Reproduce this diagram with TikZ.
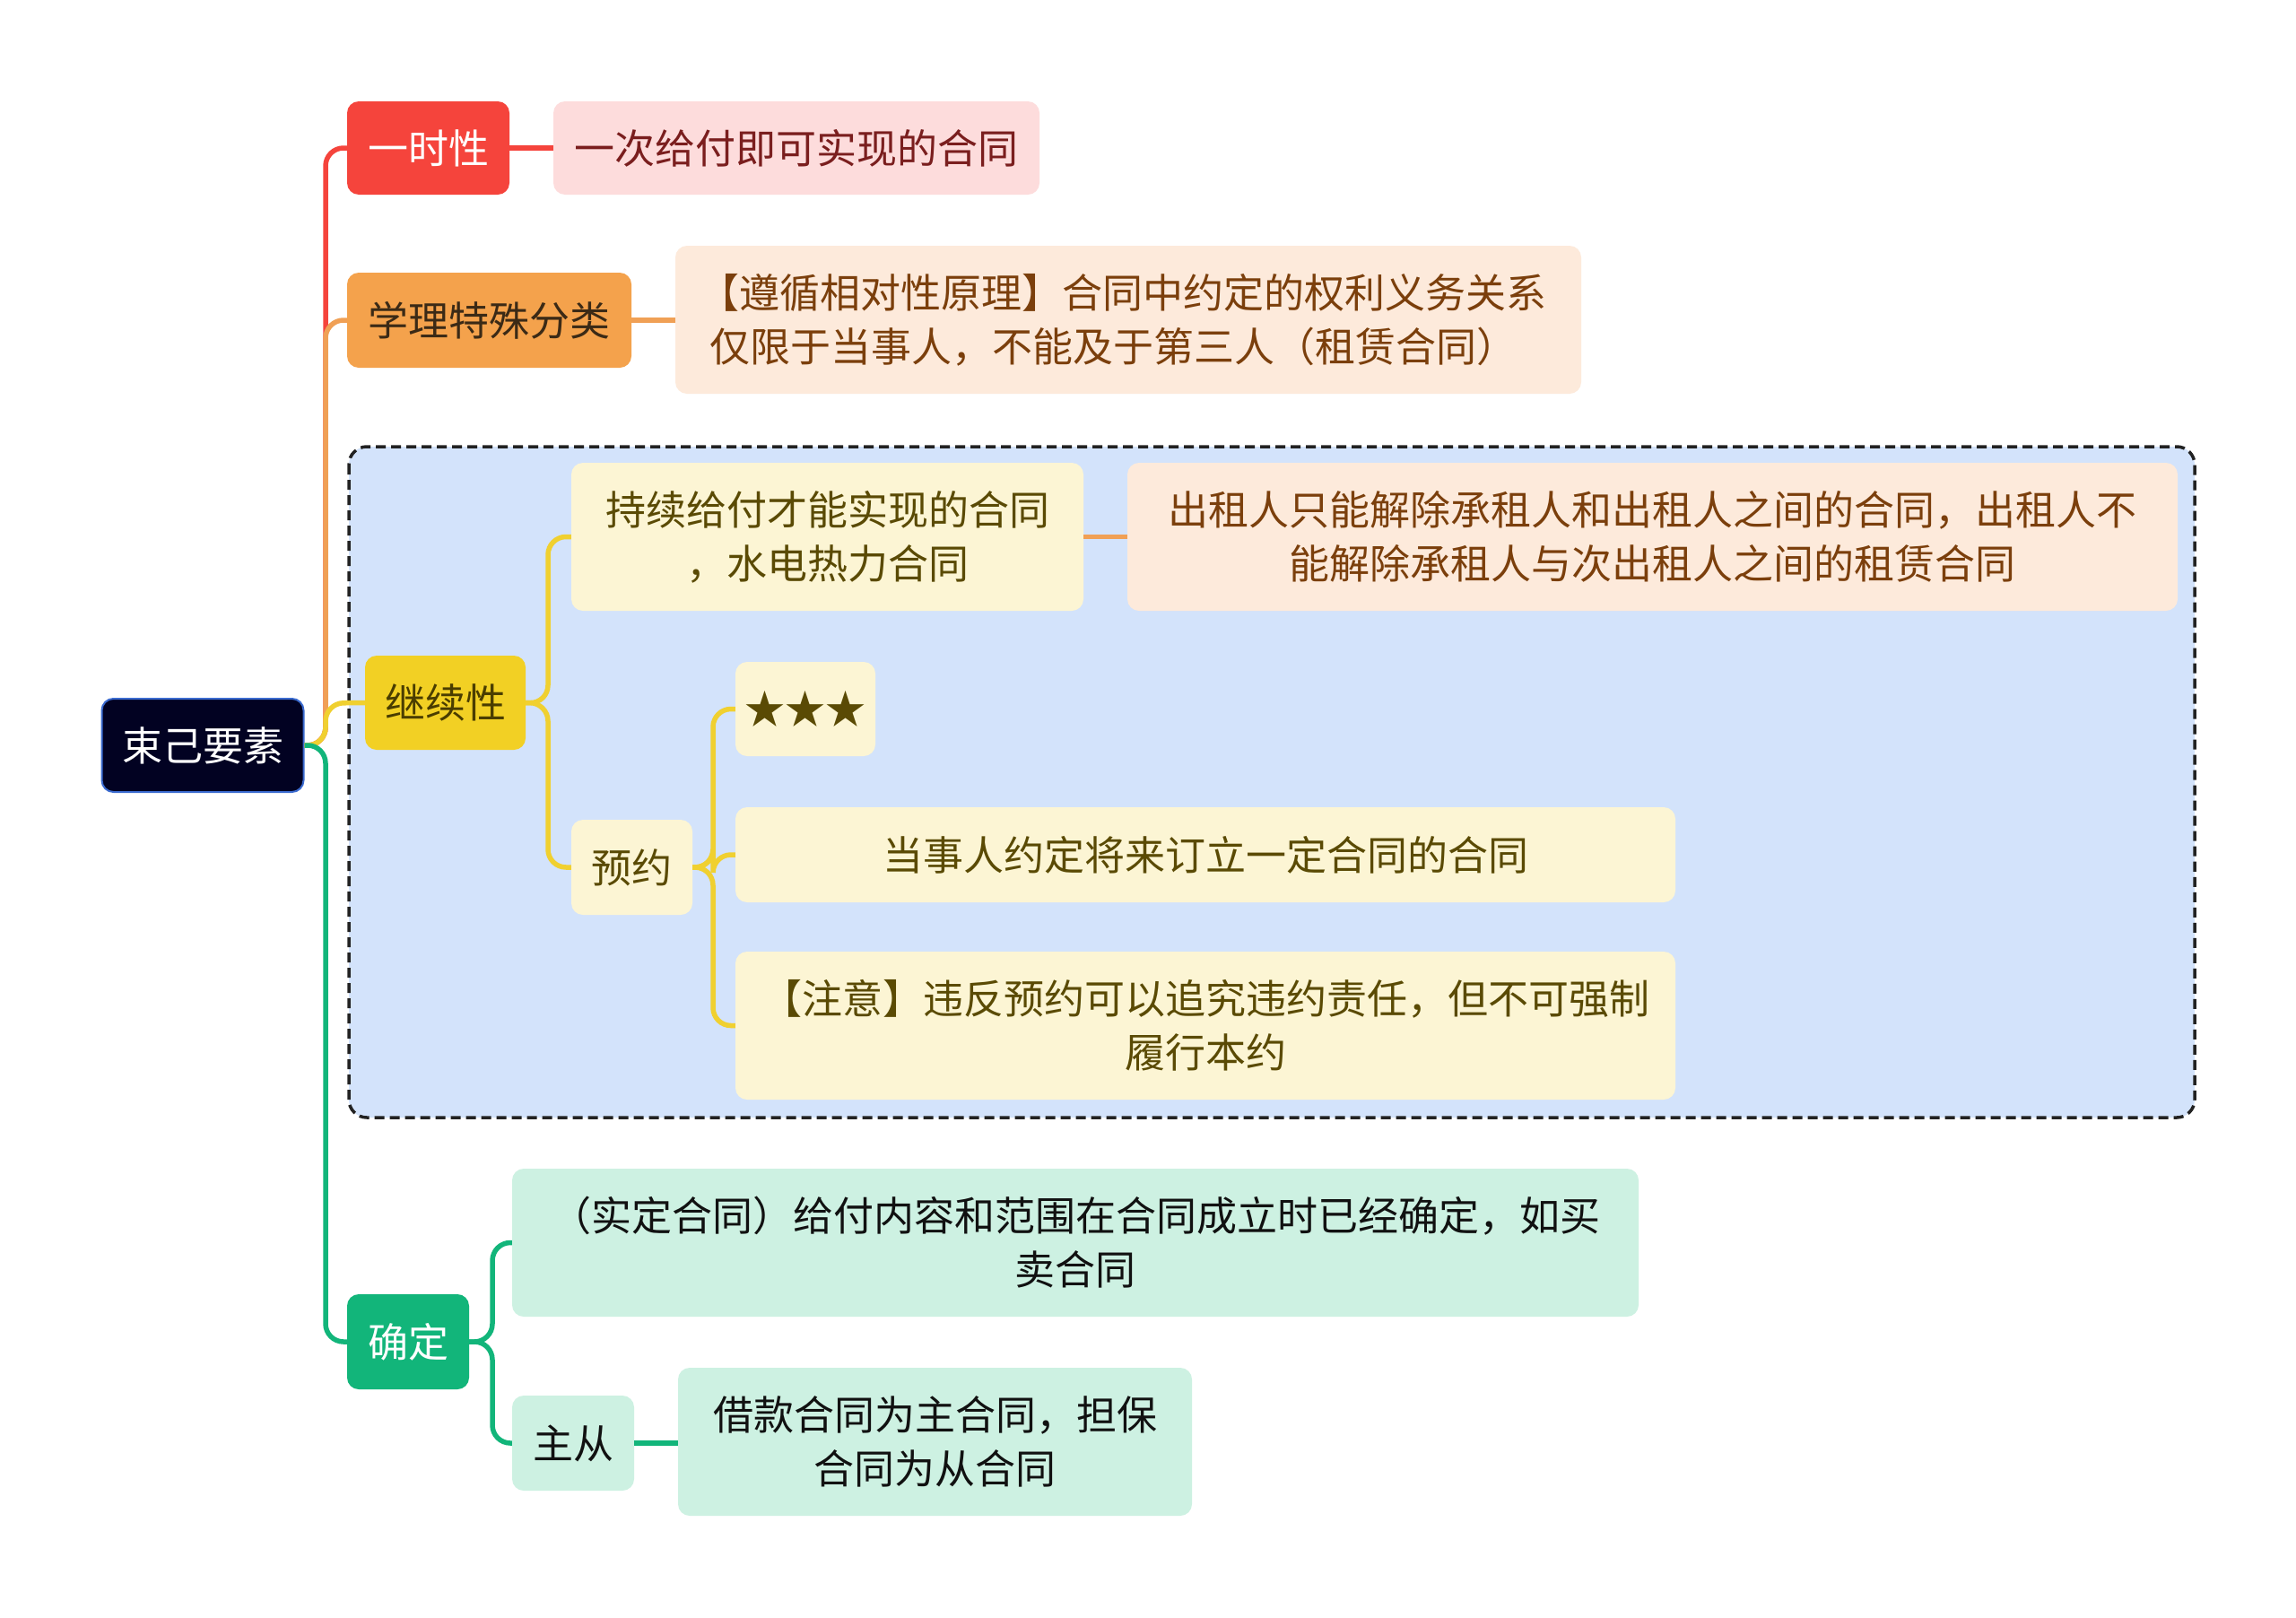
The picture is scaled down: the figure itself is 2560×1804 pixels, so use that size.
\documentclass[tikz,border=0pt]{standalone}
\usepackage{fontspec}
\setmainfont{Noto Sans CJK SC}
\definecolor{cRed}{HTML}{F5443C}
\definecolor{cPink}{HTML}{FDDCDC}
\definecolor{cPinkTxt}{HTML}{7A1E1E}
\definecolor{cOrange}{HTML}{F4A24C}
\definecolor{cOrangeLine}{HTML}{F0A055}
\definecolor{cPeach}{HTML}{FDEADB}
\definecolor{cPeachTxt}{HTML}{7B3F0C}
\definecolor{cOrangeTxt}{HTML}{3B2A16}
\definecolor{cYellow}{HTML}{F2D024}
\definecolor{cYellowLine}{HTML}{F0D030}
\definecolor{cLYellow}{HTML}{FCF5D4}
\definecolor{cYellowTxt}{HTML}{5A4A04}
\definecolor{cYellowDTxt}{HTML}{4A3D00}
\definecolor{cGreen}{HTML}{12B57A}
\definecolor{cLGreen}{HTML}{CDF1E2}
\definecolor{cGreenTxt}{HTML}{111111}
\definecolor{cBlueBg}{HTML}{D3E3FB}
\definecolor{cRoot}{HTML}{020222}
\definecolor{cRootBorder}{HTML}{3A6ACF}
\definecolor{cDash}{HTML}{222222}
\tikzset{
  box/.style={rectangle, rounded corners=13pt, inner sep=0pt, align=center,
    font=\fontsize{45}{60}\selectfont},
  conn/.style={line width=5.5pt, rounded corners=20pt},
}
\begin{document}
\begin{tikzpicture}[x=1pt,y=-1pt]
\useasboundingbox[fill=white] (0,0) rectangle (2560,1804);
% dashed background group
\draw[fill=cBlueBg, draw=cDash, line width=3.5pt, dash pattern=on 11pt off 6pt, rounded corners=20pt]
  (389,498) rectangle (2447,1246);

% nodes
\node[box, fill=cRoot, draw=cRootBorder, line width=2pt, text=white, minimum width=225pt, minimum height=104pt] (root) at (226,831) {束己要素};

\node[box, fill=cRed, text=white, minimum width=181pt, minimum height=104pt] (n1) at (477.5,165) {一时性};
\node[box, fill=cPink, text=cPinkTxt, minimum width=542pt, minimum height=104pt] (n1a) at (888,165) {一次给付即可实现的合同};

\node[box, fill=cOrange, text=cOrangeTxt, minimum width=317pt, minimum height=106pt] (n2) at (545.5,357) {学理特殊分类};
\node[box, fill=cPeach, text=cPeachTxt, minimum width=1010pt, minimum height=165pt, align=left] (n2a) at (1258,356.5) {\hspace*{-0.25em}【遵循相对性原理】合同中约定的权利义务关系\\仅限于当事人，不能及于第三人（租赁合同）};

\node[box, fill=cYellow, text=cYellowDTxt, minimum width=179pt, minimum height=105pt] (n3) at (496.5,783.5) {继续性};
\node[box, fill=cLYellow, text=cYellowTxt, minimum width=571pt, minimum height=165pt] (n3a) at (922.5,598.5) {持续给付才能实现的合同\\，水电热力合同};
\node[box, fill=cPeach, text=cPeachTxt, minimum width=1171pt, minimum height=165pt] (n3a1) at (1842.5,598.5) {出租人只能解除承租人和出租人之间的合同，出租人不\\能解除承租人与次出租人之间的租赁合同};
\node[box, fill=cLYellow, text=cYellowTxt, minimum width=135pt, minimum height=106pt] (n3b) at (704.5,967) {预约};
\node[box, fill=cLYellow, text=cYellowTxt, minimum width=156pt, minimum height=105pt] (n3b1) at (898,790.5) {★★★};
\node[box, fill=cLYellow, text=cYellowTxt, minimum width=1048pt, minimum height=106pt] (n3b2) at (1344,953) {当事人约定将来订立一定合同的合同};
\node[box, fill=cLYellow, text=cYellowTxt, minimum width=1048pt, minimum height=165pt] (n3b3) at (1344,1143.5) {【注意】违反预约可以追究违约责任，但不可强制\\履行本约};

\node[box, fill=cGreen, text=white, minimum width=136pt, minimum height=106pt] (n4) at (455,1496) {确定};
\node[box, fill=cLGreen, text=cGreenTxt, minimum width=1256pt, minimum height=165pt] (n4a) at (1199,1385.5) {（实定合同）给付内容和范围在合同成立时已经确定，如买\\卖合同};
\node[box, fill=cLGreen, text=cGreenTxt, minimum width=136pt, minimum height=106pt] (n4b) at (639,1609) {主从};
\node[box, fill=cLGreen, text=cGreenTxt, minimum width=573pt, minimum height=165pt] (n4b1) at (1042.5,1607.5) {借款合同为主合同，担保\\合同为从合同};

% trunk connectors
\draw[conn, cRed] (root.east) -- (363,831) -- (363,165) -- (n1.west);
\draw[conn, cOrangeLine] (root.east) -- (363,831) -- (363,357) -- (n2.west);
\draw[conn, cYellowLine] (root.east) -- (363,831) -- (363,784) -- (n3.west);
\draw[conn, cGreen] (root.east) -- (363,831) -- (363,1496) -- (n4.west);

% level 2
\draw[conn, cRed] (n1.east) -- (n1a.west);
\draw[conn, cOrangeLine] (n2.east) -- (n2.east -| n2a.west);
\draw[conn, cYellowLine] (n3.east) -- (611,784) -- (611,598.5) -- (n3a.west);
\draw[conn, cYellowLine] (n3.east) -- (611,784) -- (611,967) -- (n3b.west);
\draw[conn, cOrangeLine] (n3a.east) -- (n3a1.west);
\draw[conn, cYellowLine] (n3b.east) -- (795,967) -- (795,790.5) -- (n3b1.west);
\draw[conn, cYellowLine] (n3b.east) -- (795,967) -- (795,953) -- (n3b2.west);
\draw[conn, cYellowLine] (n3b.east) -- (795,967) -- (795,1143.5) -- (n3b3.west);
\draw[conn, cGreen] (n4.east) -- (549,1496) -- (549,1385.5) -- (n4a.west);
\draw[conn, cGreen] (n4.east) -- (549,1496) -- (549,1609) -- (n4b.west);
\draw[conn, cGreen] (n4b.east) -- (n4b.east -| n4b1.west);
\end{tikzpicture}
\end{document}
